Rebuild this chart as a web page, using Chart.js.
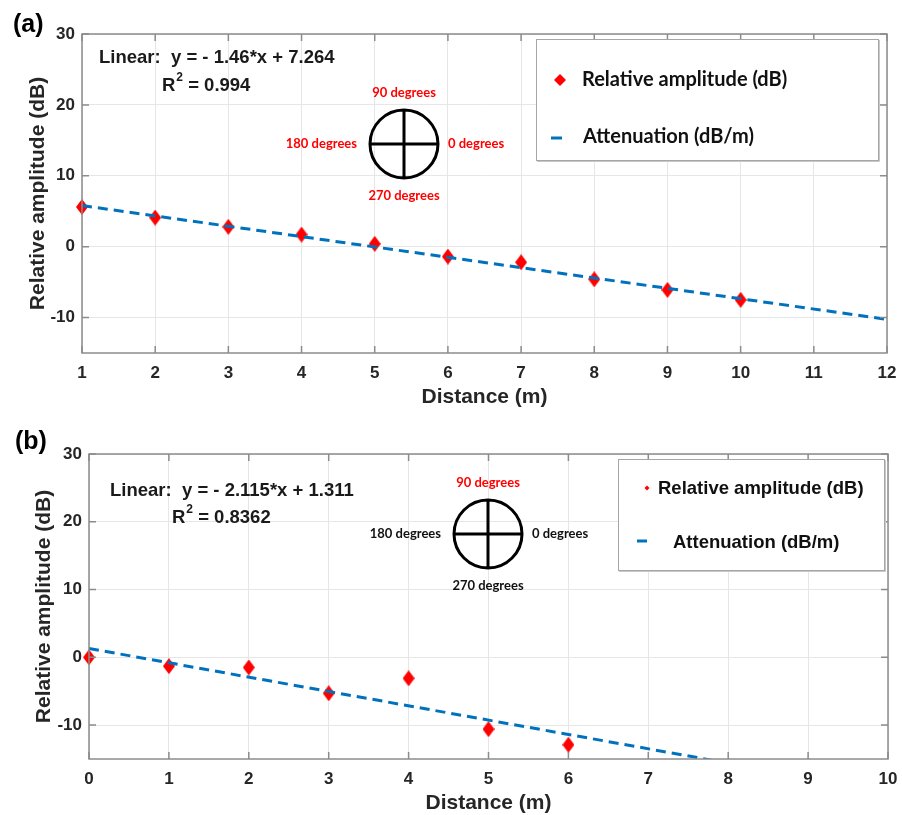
<!DOCTYPE html>
<html>
<head>
<meta charset="utf-8">
<script src="https://cdn.jsdelivr.net/npm/chart.js@4.4.0/dist/chart.umd.min.js"></script>
<style>
  body { margin: 0; background: #fff; }
  .panel { position: relative; width: 902px; }
</style>
</head>
<body>
<div class="panel" style="height:407px"><canvas id="chartA"></canvas></div>
<div class="panel" style="height:408px"><canvas id="chartB"></canvas></div>
<script>
// panel (a)
const distA = [1, 2, 3, 4, 5, 6, 7, 8, 9, 10];
const ampA = [5.6, 4.1, 2.8, 1.7, 0.4, -1.4, -2.2, -4.6, -6.1, -7.5];
const fitXA = [1, 12];
const fitYA = [5.80, -10.26];
const xTicksA = [1, 2, 3, 4, 5, 6, 7, 8, 9, 10, 11, 12];

// panel (b)
const distB = [0, 1, 2, 3, 4, 5, 6];
const ampB = [0.0, -1.3, -1.5, -5.3, -3.1, -10.6, -12.9];
const fitXB = [0, 10];
const fitYB = [1.31, -19.84];
const xTicksB = [0, 1, 2, 3, 4, 5, 6, 7, 8, 9, 10];

const yTicks = [-10, 0, 10, 20, 30];

const ARIAL = '"Liberation Sans", Arial, sans-serif';
const CALIBRI = 'Lato, "Open Sans", sans-serif';
const RED = '#ff0000';
const BLUE = '#0072BD';
const BOX = '#8c8c8c';

function diamond(w, h, color) {
    const c = document.createElement('canvas');
    c.width = w; c.height = h;
    const g = c.getContext('2d');
    g.fillStyle = color;
    g.beginPath();
    g.moveTo(w / 2, 0); g.lineTo(w, h / 2); g.lineTo(w / 2, h); g.lineTo(0, h / 2);
    g.closePath();
    g.fill();
    return c;
}

// box, inward ticks, legend and the text notes
const panelPlugin = {
    id: 'panel',
    afterDraw(chart, args, o) {
        const { ctx, chartArea: a, scales: { x, y } } = chart;
        ctx.save();

        ctx.strokeStyle = BOX;
        ctx.lineWidth = 1.5;
        ctx.strokeRect(a.left, a.top, a.right - a.left, a.bottom - a.top);
        ctx.beginPath();
        x.ticks.forEach(t => {
            const px = x.getPixelForValue(t.value);
            ctx.moveTo(px, a.bottom); ctx.lineTo(px, a.bottom - 7);
            ctx.moveTo(px, a.top); ctx.lineTo(px, a.top + 7);
        });
        y.ticks.forEach(t => {
            const py = y.getPixelForValue(t.value);
            ctx.moveTo(a.left, py); ctx.lineTo(a.left + 7, py);
            ctx.moveTo(a.right, py); ctx.lineTo(a.right - 7, py);
        });
        ctx.stroke();

        ctx.fillStyle = '#000';
        ctx.textBaseline = 'middle';
        ctx.textAlign = 'left';

        // panel label
        ctx.font = 'bold 25px ' + ARIAL;
        ctx.fillText(o.label, o.labelPos[0], o.labelPos[1]);

        // fit equation
        ctx.fillStyle = '#1a1a1a';
        ctx.font = 'bold 18.5px ' + ARIAL;
        ctx.fillText(o.eq, o.eqPos[0], o.eqPos[1]);
        let rx = o.r2Pos[0];
        ctx.fillText('R', rx, o.r2Pos[1]);
        rx += ctx.measureText('R').width;
        ctx.font = 'bold 12px ' + ARIAL;
        ctx.fillText('2', rx + 1, o.r2Pos[1] - 8);
        rx += ctx.measureText('2').width + 1;
        ctx.font = 'bold 18.5px ' + ARIAL;
        ctx.fillText(' = ' + o.r2, rx, o.r2Pos[1]);

        // orientation circle
        const [cx, cy] = o.circle;
        const r = 34;
        ctx.strokeStyle = '#000';
        ctx.lineWidth = 3;
        ctx.beginPath();
        ctx.arc(cx, cy, r, 0, Math.PI * 2);
        ctx.moveTo(cx - r, cy); ctx.lineTo(cx + r, cy);
        ctx.moveTo(cx, cy - r); ctx.lineTo(cx, cy + r);
        ctx.stroke();

        ctx.font = 'bold 13px ' + CALIBRI;
        const c = o.degColors;
        ctx.textAlign = 'center';
        ctx.fillStyle = c[0]; ctx.fillText('90 degrees', cx, cy - 51);
        ctx.fillStyle = c[3]; ctx.fillText('270 degrees', cx, cy + 52);
        ctx.textAlign = 'right';
        ctx.fillStyle = c[1]; ctx.fillText('180 degrees', cx - 47, cy);
        ctx.textAlign = 'left';
        ctx.fillStyle = c[2]; ctx.fillText('0 degrees', cx + 44, cy);

        // legend
        const L = o.legend;
        ctx.fillStyle = '#fff';
        ctx.fillRect(L.box[0], L.box[1], L.box[2], L.box[3]);
        ctx.strokeStyle = '#a6a6a6';
        ctx.lineWidth = 1;
        ctx.strokeRect(L.box[0] + 0.5, L.box[1] + 0.5, L.box[2], L.box[3]);
        ctx.strokeStyle = '#c8c8c8';
        ctx.beginPath();
        ctx.moveTo(L.box[0] + 1, L.box[1] + L.box[3] + 1.5);
        ctx.lineTo(L.box[0] + L.box[2] + 1.5, L.box[1] + L.box[3] + 1.5);
        ctx.lineTo(L.box[0] + L.box[2] + 1.5, L.box[1] + 1);
        ctx.stroke();

        const m = L.marker;
        ctx.fillStyle = RED;
        ctx.beginPath();
        ctx.moveTo(m[0], m[1] - m[2]); ctx.lineTo(m[0] + m[2], m[1]);
        ctx.lineTo(m[0], m[1] + m[2]); ctx.lineTo(m[0] - m[2], m[1]);
        ctx.closePath();
        ctx.fill();

        ctx.strokeStyle = BLUE;
        ctx.lineWidth = 3;
        ctx.beginPath();
        ctx.moveTo(L.dash[0], L.dash[2]); ctx.lineTo(L.dash[1], L.dash[2]);
        ctx.stroke();

        ctx.fillStyle = '#111';
        ctx.font = L.font;
        ctx.textAlign = 'left';
        ctx.fillText('Relative amplitude (dB)', L.t1[0], L.t1[1]);
        ctx.fillText('Attenuation (dB/m)', L.t2[0], L.t2[1]);

        ctx.restore();
    }
};

function makeChart(id, xs, ys, fx, fy, xTicks, layout, notes) {
    const pts = xs.map((v, i) => ({ x: v, y: ys[i] }));
    const fit = fx.map((v, i) => ({ x: v, y: fy[i] }));
    return new Chart(document.getElementById(id), {
        type: 'scatter',
        data: {
            datasets: [
                {
                    label: 'Attenuation (dB/m)',
                    data: fit,
                    showLine: true,
                    borderColor: BLUE,
                    borderWidth: 3,
                    borderDash: [10, 6],
                    pointRadius: 0,
                    order: 0
                },
                {
                    label: 'Relative amplitude (dB)',
                    data: pts,
                    pointStyle: diamond(12, 16, RED),
                    pointRadius: 8,
                    clip: false,
                    order: 1
                }
            ]
        },
        options: {
            responsive: true,
            maintainAspectRatio: false,
            animation: false,
            layout: { padding: { top: layout.top, right: layout.right, left: 0, bottom: 0 } },
            scales: {
                x: {
                    type: 'linear',
                    min: xTicks[0],
                    max: xTicks[xTicks.length - 1],
                    afterBuildTicks: s => { s.ticks = xTicks.map(v => ({ value: v })); },
                    afterFit: s => { s.height = layout.xh; s.paddingLeft = 0; s.paddingRight = 0; },
                    grid: { color: '#e6e6e6', drawTicks: false },
                    border: { display: false },
                    ticks: { color: '#262626', padding: 10, font: { family: ARIAL, size: 17, weight: 'bold' } },
                    title: {
                        display: true, text: 'Distance (m)', color: '#262626',
                        font: { family: ARIAL, size: 21, weight: 'bold' },
                        padding: { top: 0, bottom: layout.xtp }
                    }
                },
                y: {
                    min: -15,
                    max: 30,
                    afterBuildTicks: s => { s.ticks = yTicks.map(v => ({ value: v })); },
                    afterFit: s => { s.width = layout.yw; s.paddingTop = 0; s.paddingBottom = 0; },
                    grid: { color: '#e6e6e6', drawTicks: false },
                    border: { display: false },
                    ticks: { color: '#262626', padding: 7, font: { family: ARIAL, size: 17, weight: 'bold' } },
                    title: {
                        display: true, text: 'Relative amplitude (dB)', color: '#262626',
                        font: { family: ARIAL, size: 21, weight: 'bold' },
                        padding: { top: layout.ytp, bottom: 0 }
                    }
                }
            },
            plugins: {
                legend: { display: false },
                tooltip: { enabled: false },
                panel: notes
            }
        },
        plugins: [panelPlugin]
    });
}

makeChart('chartA', distA, ampA, fitXA, fitYA, xTicksA,
    { top: 34, right: 15, xh: 54, yw: 82, ytp: 26, xtp: -3 },
    {
        label: '(a)', labelPos: [13, 25],
        eq: 'Linear:  y = - 1.46*x + 7.264', eqPos: [99, 58],
        r2: '0.994', r2Pos: [162, 86],
        circle: [404, 144],
        degColors: [RED, RED, RED, RED],
        legend: {
            box: [536, 39, 342, 121],
            marker: [560, 80, 6],
            dash: [551, 562, 138],
            font: 'bold 20px ' + CALIBRI,
            t1: [582, 80], t2: [583, 137]
        }
    });

makeChart('chartB', distB, ampB, fitXB, fitYB, xTicksB,
    { top: 47, right: 14, xh: 56, yw: 89, ytp: 32, xtp: -1 },
    {
        label: '(b)', labelPos: [15, 35],
        eq: 'Linear:  y = - 2.115*x + 1.311', eqPos: [110, 84],
        r2: '0.8362', r2Pos: [172, 111],
        circle: [488, 127],
        degColors: [RED, '#111', '#111', '#111'],
        legend: {
            box: [618, 52, 266, 111],
            marker: [647, 81, 2.5],
            dash: [637, 647, 134],
            font: 'bold 18.5px ' + ARIAL,
            t1: [658, 82], t2: [673, 136]
        }
    });
</script>
</body>
</html>
